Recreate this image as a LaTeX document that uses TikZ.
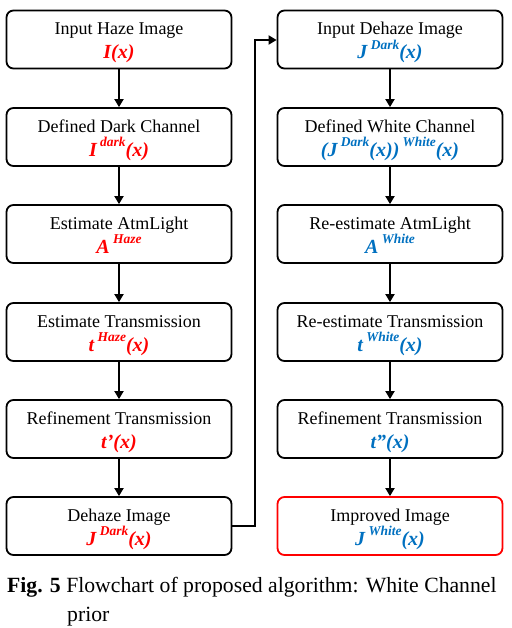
\documentclass[tikz,border=0pt]{standalone}
\usepackage{fontspec}
\setmainfont{Liberation Serif}
\usetikzlibrary{arrows.meta}
\definecolor{fred}{RGB}{255,0,0}
\definecolor{fblue}{RGB}{0,112,192}
\newcommand{\supx}[1]{{\fontsize{13.5}{13.5}\selectfont\raisebox{9.5pt}{#1}}}
\tikzset{
  box/.style={draw=black, line width=1.8pt, rounded corners=7pt, minimum width=225pt, minimum height=58pt, inner sep=0pt},
  redbox/.style={box, draw=fred},
  ttl/.style={anchor=base, inner sep=0pt, font=\fontsize{18}{20}\selectfont},
  frm/.style={anchor=base, inner sep=0pt, font=\fontsize{20}{24}\selectfont\bfseries\itshape},
  arr/.style={line width=1.8pt, -{Triangle[width=9pt,length=8pt]}},
  captext/.style={anchor=base west, inner sep=0pt, font=\fontsize{21.7}{24}\selectfont}
}
\begin{document}
\begin{tikzpicture}[x=1pt,y=1pt]
\useasboundingbox (0,0) rectangle (511,-628);
% left column
\node[box] (L1) at (119,-39.5) {};
\node[box] (L2) at (119,-137) {};
\node[box] (L3) at (119,-234) {};
\node[box] (L4) at (119,-332) {};
\node[box] (L5) at (119,-429) {};
\node[box] (L6) at (119,-526) {};
% right column
\node[box] (R1) at (390,-39.5) {};
\node[box] (R2) at (390,-137) {};
\node[box] (R3) at (390,-234) {};
\node[box] (R4) at (390,-332) {};
\node[box] (R5) at (390,-429) {};
\node[redbox] (R6) at (390,-526) {};
% texts
\foreach \n/\t in {L1/Input Haze Image, L2/Defined Dark Channel, L3/Estimate AtmLight, L4/Estimate Transmission, L5/Refinement Transmission, L6/Dehaze Image,
  R1/Input Dehaze Image, R2/Defined White Channel, R3/Re-estimate AtmLight, R4/Re-estimate Transmission, R5/Refinement Transmission, R6/Improved Image}
  {\node[ttl] (\n t) at ([yshift=-25pt]\n.north) {\t};}
\node[frm, text=fred] (L1f) at ([yshift=-49pt]L1.north) {I(x)};
\node[frm, text=fred] (L2f) at ([yshift=-49pt]L2.north) {I\,\supx{dark}(x)};
\node[frm, text=fred] (L3f) at ([yshift=-49pt]L3.north) {A\,\supx{Haze}};
\node[frm, text=fred] (L4f) at ([yshift=-49pt]L4.north) {t\,\supx{Haze}(x)};
\node[frm, text=fred] (L5f) at ([yshift=-49pt]L5.north) {t’(x)};
\node[frm, text=fred] (L6f) at ([yshift=-49pt]L6.north) {J\,\supx{Dark}(x)};
\node[frm, text=fblue] (R1f) at ([yshift=-49pt]R1.north) {J\,\supx{Dark}(x)};
\node[frm, text=fblue] (R2f) at ([yshift=-49pt]R2.north) {(J\,\supx{Dark}(x))\,\supx{White}(x)};
\node[frm, text=fblue] (R3f) at ([yshift=-49pt]R3.north) {A\,\supx{White}};
\node[frm, text=fblue] (R4f) at ([yshift=-49pt]R4.north) {t\,\supx{White}(x)};
\node[frm, text=fblue] (R5f) at ([yshift=-49pt]R5.north) {t”(x)};
\node[frm, text=fblue] (R6f) at ([yshift=-49pt]R6.north) {J\,\supx{White}(x)};
% arrows
\foreach \a/\b in {L1/L2,L2/L3,L3/L4,L4/L5,L5/L6,R1/R2,R2/R3,R3/R4,R4/R5,R5/R6}
  {\draw[arr] (\a.south) -- (\b.north);}
\coordinate (c1) at (255,-526);
\coordinate (c2) at (255,-40);
\draw[arr] (L6.east) -- (c1) -- (c2) -- (c2 -| R1.west);
% caption
\node[captext] (cap1) at (7,-592) {\textbf{Fig. 5} Flowchart of proposed algorithm: White Channel};
\node[captext] (cap2) at (67,-621) {prior};
\end{tikzpicture}
\end{document}
